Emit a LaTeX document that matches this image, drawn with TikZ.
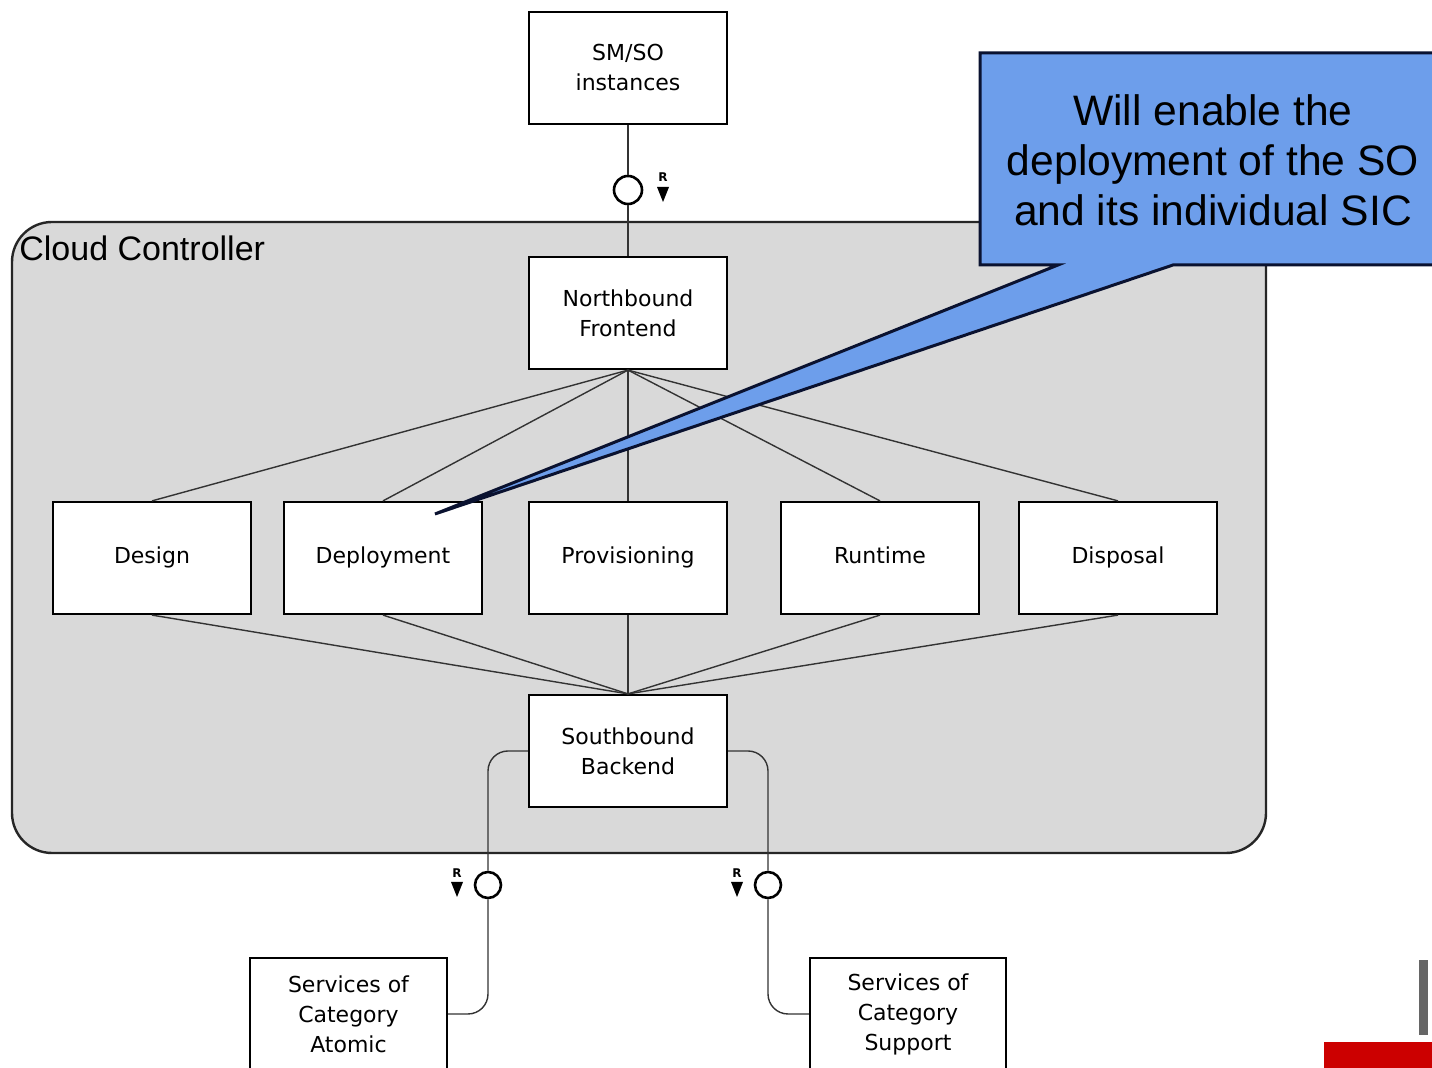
\documentclass[tikz,border=0pt]{standalone}
\usepackage{fontspec}
\setmainfont{DejaVu Sans}
\newfontfamily\arialf{Liberation Sans}
\definecolor{ccgray}{HTML}{D9D9D9}
\definecolor{callblue}{HTML}{6D9EEB}
\definecolor{callline}{HTML}{0A1230}
\definecolor{logored}{HTML}{CC0000}
\tikzset{
  box/.style={draw=black, line width=1.1pt, fill=white, minimum width=99pt, minimum height=56pt, inner sep=0pt, align=center, font=\fontsize{11}{15}\selectfont},
  onebox/.style={box, text height=8pt, text depth=2.5pt},
  conn/.style={draw=black!80, line width=0.7pt},
  iface/.style={circle, draw=black, line width=1.3pt, fill=white, minimum size=14pt, inner sep=0pt},
  rlabel/.style={font=\fontsize{6}{6}\selectfont\bfseries, inner sep=0pt},
}
\begin{document}
\begin{tikzpicture}[x=0.5pt, y=-0.5pt]
\useasboundingbox (0,0) rectangle (1432,1068);
\fill[white] (0,0) rectangle (1432,1068);
% container
\draw[fill=ccgray, draw=black!85, line width=1.2pt, rounded corners=20pt] (12,222) rectangle (1266,853);
\node[anchor=west, font=\arialf\fontsize{17}{17}\selectfont, inner sep=0pt] (cc) at (19,248) {Cloud Controller};

% nodes
\node[box] (smso) at (628,68) {SM/SO\\instances};
\node[box] (nf) at (628,313) {Northbound\\Frontend};
\node[onebox] (design) at (152,558) {Design};
\node[onebox] (deploy) at (383,558) {Deployment};
\node[onebox] (prov) at (628,558) {Provisioning};
\node[onebox] (runtime) at (880,558) {Runtime};
\node[onebox] (disposal) at (1118,558) {Disposal};
\node[box] (sb) at (628,751) {Southbound\\Backend};
\node[box, minimum width=98.5pt] (atomic) at (348.5,1014) {Services of\\Category\\Atomic};
\node[box, minimum width=98pt] (support) at (908,1014) {Services of\\Category\\Support};

% interfaces
\node[iface] (ctop) at (628,190) {};
\node[iface, minimum size=13pt] (c1) at (488,885) {};
\node[iface, minimum size=13pt] (c2) at (768,885) {};

% connectors
\draw[conn] (smso.south) -- (ctop.north);
\draw[conn] (ctop.south) -- (nf.north);
\foreach \b in {design,deploy,prov,runtime,disposal} {
  \draw[conn] (nf.south) -- (\b.north);
  \draw[conn] (\b.south) -- (sb.north);
}
\draw[conn, rounded corners=10pt] (sb.west) -| (c1.north);
\draw[conn, rounded corners=10pt] (c1.south) |- (atomic.east);
\draw[conn, rounded corners=10pt] (sb.east) -| (c2.north);
\draw[conn, rounded corners=10pt] (c2.south) |- (support.west);

% R markers
\node[rlabel] (r0) at (663,177) {R};
\fill (657,187) -- (669,187) -- (663,202) -- cycle;
\node[rlabel] (r1) at (457,873) {R};
\fill (451,882) -- (463,882) -- (457,897) -- cycle;
\node[rlabel] (r2) at (737,873) {R};
\fill (731,882) -- (743,882) -- (737,897) -- cycle;

% callout
\draw[fill=callblue, draw=callline, line width=1.5pt, line join=miter]
  (980,53) -- (1445,53) -- (1445,265) -- (1173,265) -- (435,514) -- (1058,265) -- (980,265) -- cycle;
\node[align=center, font=\arialf\fontsize{21.3}{25}\selectfont, inner sep=0pt] (callout) at (1213,160) {Will enable the\\deployment of the SO\\and its individual SIC};

% corner marks
\fill[black!60] (1419,960) rectangle (1428,1035);
\fill[logored] (1324,1042) rectangle (1432,1068);
\end{tikzpicture}
\end{document}
